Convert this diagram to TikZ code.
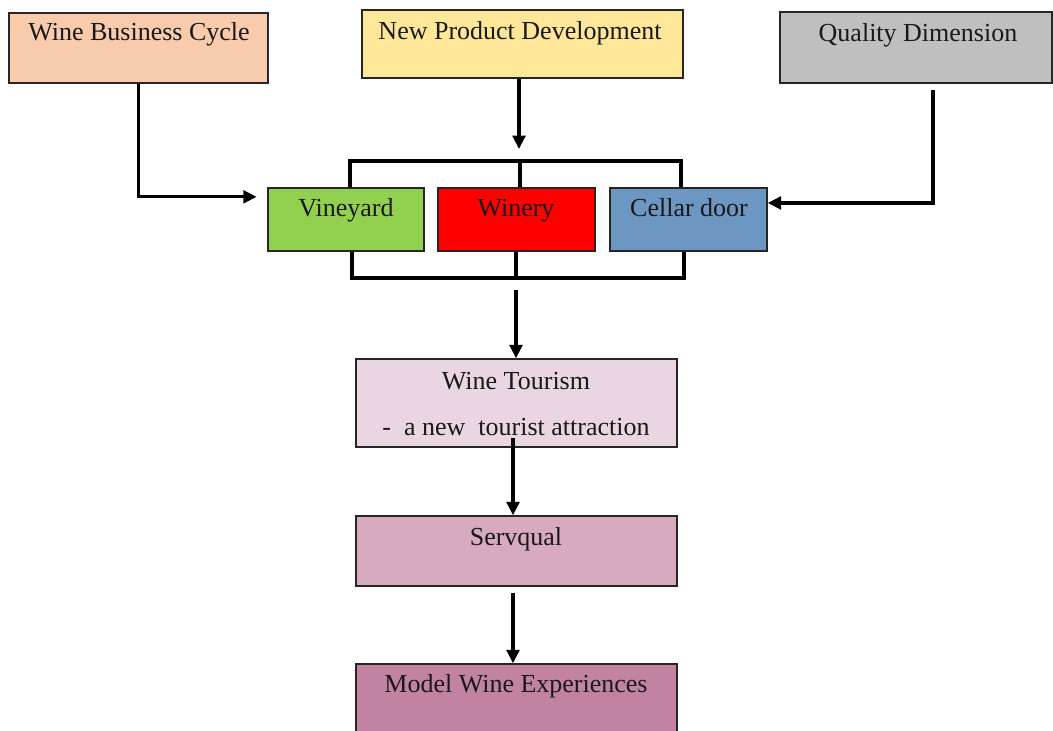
\documentclass[tikz,border=0pt]{standalone}
\usepackage{fontspec}
\setmainfont{Liberation Serif}
\usetikzlibrary{arrows.meta,fit}
\definecolor{peach}{HTML}{F8CBAD}
\definecolor{sand}{HTML}{FFE699}
\definecolor{greybox}{HTML}{BFBFBF}
\definecolor{leaf}{HTML}{92D050}
\definecolor{wred}{HTML}{FF0000}
\definecolor{steel}{HTML}{6C97C2}
\definecolor{blush}{HTML}{EAD6E3}
\definecolor{mauve}{HTML}{D8AAC0}
\definecolor{plum}{HTML}{C283A3}
\tikzset{
  box/.style={draw=black!85, line width=1.1pt, inner sep=0pt},
  lbl/.style={inner sep=0pt, anchor=base, font=\fontsize{19.5}{23}\selectfont, text=black!90},
  conn/.style={line width=2.4pt, black},
  arr/.style={conn, -{Triangle[length=10pt,width=9.5pt]}}
}
\begin{document}
\begin{tikzpicture}[x=0.75pt,y=-0.75pt]
\useasboundingbox (0,0) rectangle (1053,731);

% top row
\node[box, fill=peach, fit={(9,13) (268,83)}] (wbc) {};
\node[lbl] (wbcT) at (139,41) {Wine Business Cycle};
\node[box, fill=sand, fit={(362,10) (683,78)}] (npd) {};
\node[lbl] (npdT) at (520,39.5) {New Product Development};
\node[box, fill=greybox, fit={(780,12) (1052,83)}] (qd) {};
\node[lbl] (qdT) at (918,42) {Quality Dimension};

% middle row
\node[box, fill=leaf, fit={(268,188) (424,251)}] (vy) {};
\node[lbl] (vyT) at (346,216) {Vineyard};
\node[box, fill=wred, fit={(438,188) (595,251)}] (wy) {};
\node[lbl] (wyT) at (516,216) {Winery};
\node[box, fill=steel, fit={(610,188) (767,251)}] (cd) {};
\node[lbl] (cdT) at (689,216) {Cellar door};

% lower chain
\node[box, fill=blush, fit={(356,359) (677,447)}] (wt) {};
\node[lbl] (wtT) at (516,389) {Wine Tourism};
\node[lbl] (wtT2) at (516,435) {-\enspace a new\enspace tourist attraction};
\node[box, fill=mauve, fit={(356,516) (677,586)}] (sq) {};
\node[lbl] (sqT) at (516,545) {Servqual};
\node[box, fill=plum, fit={(356,664) (677,745)}] (mwe) {};
\node[lbl] (mweT) at (516,692) {Model Wine Experiences};

% bracket corners
\coordinate (tl) at (350,161);
\coordinate (tm) at (520,161);
\coordinate (tr) at (681,161);
\coordinate (bl) at (352,278);
\coordinate (bm) at (516,278);
\coordinate (br) at (684,278);
\coordinate (npdEnd) at (519,149);
\coordinate (qdStart) at (933,90);
\coordinate (btStart) at (516,290);

% upper bracket
\draw[conn] (vy.north -| tl) -- (tl) -- (tr) -- (cd.north -| tr);
\draw[conn] (tm) -- (wy.north -| tm);
% lower bracket
\draw[conn] (vy.south -| bl) -- (bl) -- (br) -- (cd.south -| br);
\draw[conn] (wy.south -| bm) -- (bm);

% arrows
\draw[arr] (npd.south -| npdEnd) -- (npdEnd);
\draw[arr, shorten >=8pt] (wbc.south) |- ([yshift=17pt]vy.west);
\draw[arr] (qdStart) |- ([yshift=12.4pt]cd.east);
\draw[arr] (btStart) -- (wt.north -| btStart);
\draw[arr] ([yshift=7pt]wt.south -| 513,0) -- (sq.north -| 513,0);
\draw[arr] (513,593) -- (mwe.north -| 513,0);
\end{tikzpicture}
\end{document}
